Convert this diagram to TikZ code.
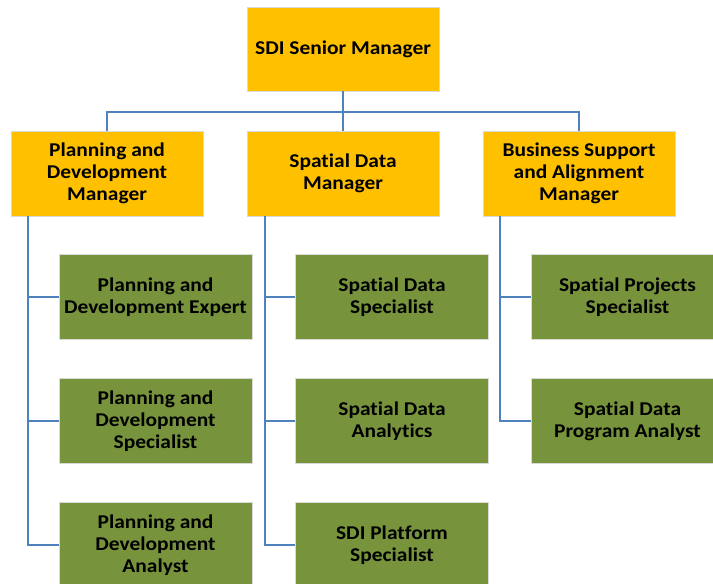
\documentclass[tikz,border=0pt]{standalone}
\usepackage{fontspec}
\setmainfont{Carlito}[FakeStretch=1.1, Ligatures=NoCommon]
\definecolor{mgr}{HTML}{FFC000}
\definecolor{staff}{HTML}{77933C}
\definecolor{conn}{HTML}{4F81BD}
\begin{document}
\begin{tikzpicture}[x=1pt,y=-1pt,
  box/.style={draw=white!85!black, line width=0.6pt, inner sep=0pt, align=center,
    font=\fontsize{19.5}{21.7}\selectfont\bfseries, text=black},
  mgrbox/.style={box, fill=mgr, minimum width=192pt, minimum height=84pt},
  staffbox/.style={box, fill=staff, minimum width=193pt, minimum height=85pt},
  link/.style={draw=conn, line width=2pt}]
\useasboundingbox (0,0) rectangle (713,584);
\begin{scope}
\clip (0,0) rectangle (713,584);
% managers
\node[mgrbox] (top) at (343,49) {SDI Senior Manager};
\node[mgrbox, minimum height=85pt] (pd) at (107,173.5) {Planning and\\Development\\Manager};
\node[mgrbox, minimum height=85pt] (sd) at (343,173.5) {Spatial Data\\Manager};
\node[mgrbox, minimum height=85pt] (bs) at (579,173.5) {Business Support\\and Alignment\\Manager};
% staff
\node[staffbox] (pd1) at (155.5,297) {Planning and\\Development Expert};
\node[staffbox] (pd2) at (155.5,421) {Planning and\\Development\\Specialist};
\node[staffbox] (pd3) at (155.5,545) {Planning and\\Development\\Analyst};
\node[staffbox] (sd1) at (392,297) {Spatial Data\\Specialist};
\node[staffbox] (sd2) at (392,421) {Spatial Data\\Analytics};
\node[staffbox] (sd3) at (392,545) {SDI Platform\\Specialist};
\node[staffbox] (bs1) at (627.5,297) {Spatial Projects\\Specialist};
\node[staffbox] (bs2) at (627.5,421) {Spatial Data\\Program Analyst};
% connectors
\coordinate (j) at (343,112);
\draw[link] (top.south) -- (j);
\draw[link] (pd.north) |- (j) -| (bs.north);
\draw[link] (j) -- (sd.north);
\coordinate (pdl) at (28,0);
\coordinate (sdl) at (265,0);
\coordinate (bsl) at (500,0);
\draw[link] (pdl |- pd.south) |- (pd3.west);
\draw[link] (pdl |- pd1.west) -- (pd1.west);
\draw[link] (pdl |- pd2.west) -- (pd2.west);
\draw[link] (sdl |- sd.south) |- (sd3.west);
\draw[link] (sdl |- sd1.west) -- (sd1.west);
\draw[link] (sdl |- sd2.west) -- (sd2.west);
\draw[link] (bsl |- bs.south) |- (bs2.west);
\draw[link] (bsl |- bs1.west) -- (bs1.west);
\end{scope}
\end{tikzpicture}
\end{document}
